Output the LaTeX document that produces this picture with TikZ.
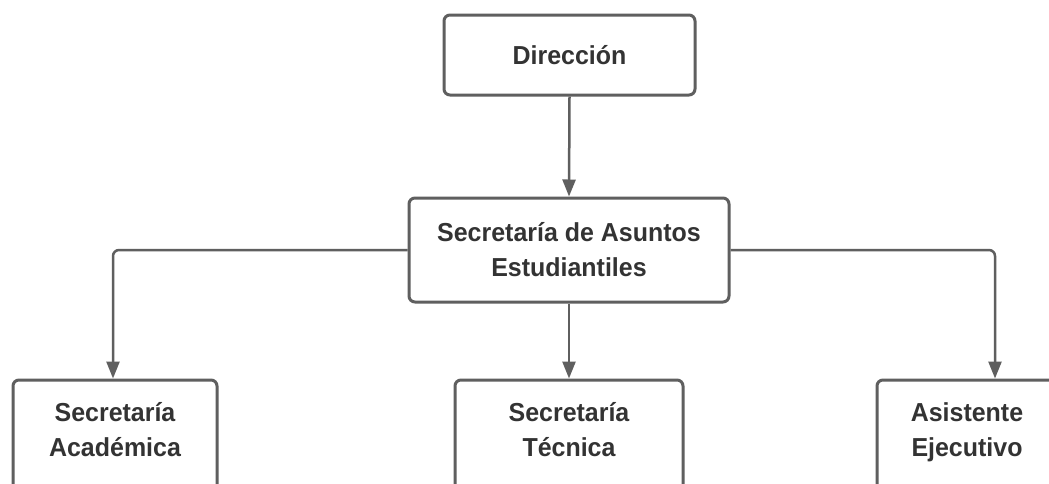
\documentclass[tikz,border=0pt]{standalone}
\usepackage{fontspec}
\setmainfont{Liberation Sans}[FakeStretch=0.96]
\usetikzlibrary{arrows.meta}
\definecolor{edge}{HTML}{5F5F5F}
\definecolor{txt}{HTML}{333333}
\newcommand\liftedtext[1]{\raisebox{0pt}[\height][\dimexpr\depth+10pt\relax]{\begin{tabular}{@{}c@{}}#1\end{tabular}}}
\begin{document}
\begin{tikzpicture}[x=1pt,y=-1pt,
  box/.style={draw=edge,line width=3pt,rounded corners=6pt,fill=white,
    align=center,text=txt,font=\fontsize{26}{35}\selectfont\bfseries,inner sep=0pt},
  conn/.style={draw=edge,line width=2.5pt,rounded corners=6pt,
    -{Triangle[length=17pt,width=13pt]}}]
\useasboundingbox (0,0) rectangle (1049,483);
\clip (0,0) rectangle (1049,483);
\fill[white] (0,0) rectangle (1049,483);
\node[box,minimum width=251pt,minimum height=80pt] (dir) at (569.5,55) {Dirección};
\node[box,minimum width=320pt,minimum height=104pt] (sae) at (569,250) {Secretaría de Asuntos\\Estudiantiles};
\node[box,minimum width=204pt,minimum height=114pt] (aca) at (115,437) {\liftedtext{Secretaría\\Académica}};
\node[box,minimum width=228pt,minimum height=114pt] (tec) at (569,437) {\liftedtext{Secretaría\\Técnica}};
\node[box,minimum width=180pt,minimum height=114pt] (ase) at (967,437) {\liftedtext{Asistente\\Ejecutivo}};
\draw[conn] (dir.south) -- (sae.north);
\draw[conn] (sae.south) -- (tec.north);
\draw[conn] (sae.west) -| ([xshift=-2pt]aca.north);
\draw[conn] (sae.east) -| ([xshift=28pt]ase.north);
\end{tikzpicture}
\end{document}
